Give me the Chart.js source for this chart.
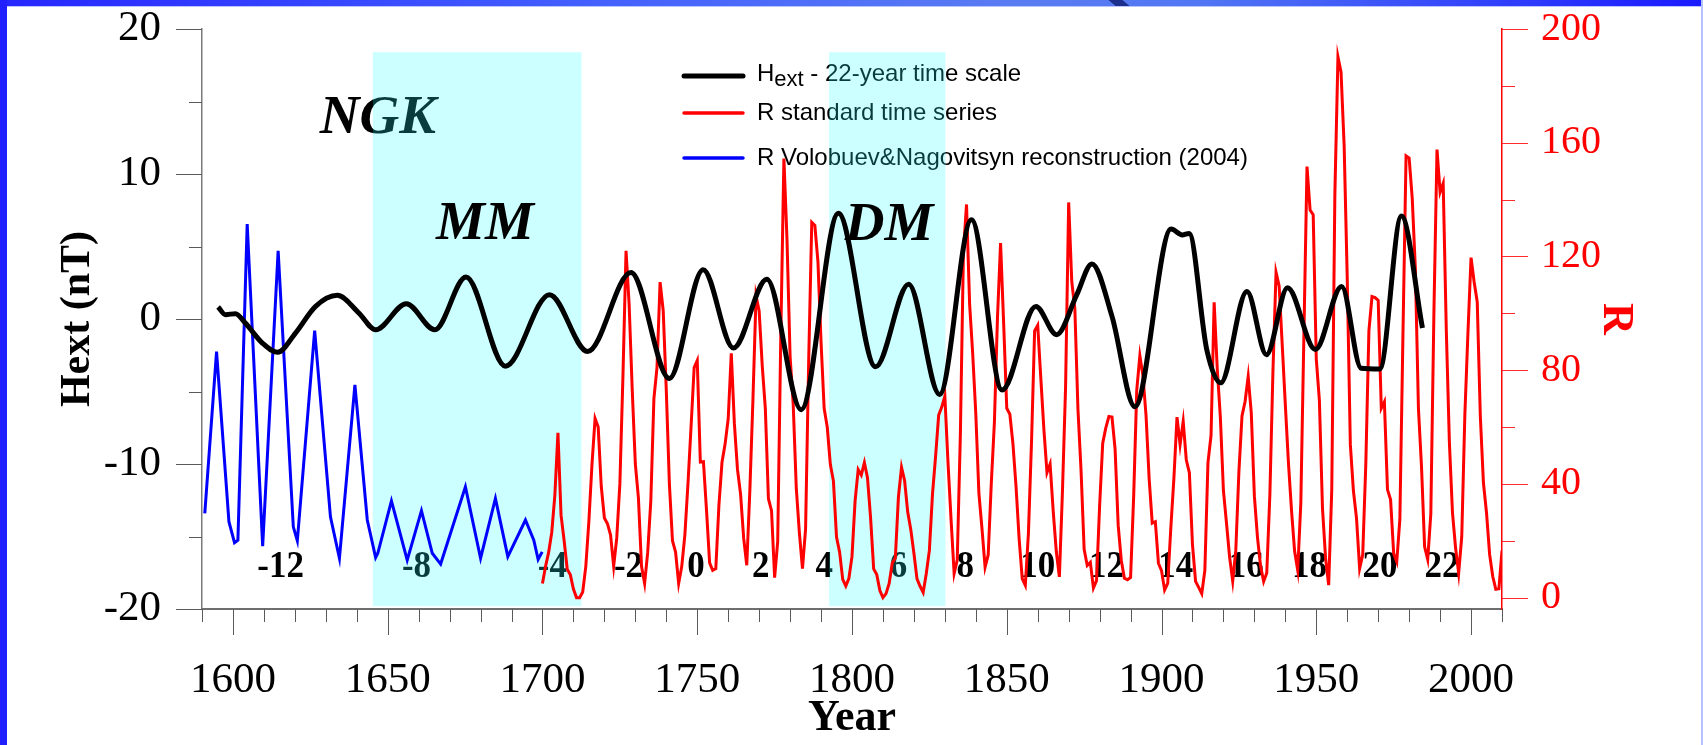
<!DOCTYPE html>
<html>
<head>
<meta charset="utf-8">
<title>Hext 22-year component and sunspot number</title>
<script src="https://cdn.jsdelivr.net/npm/chart.js@4.4.1/dist/chart.umd.min.js"></script>
<style>
  html, body { margin: 0; padding: 0; background: #fff; }
  #frame { position: relative; width: 1703px; height: 745px; overflow: hidden; background: #fff; }
  #frame canvas { position: absolute; left: 0; top: 0; }
  .bar-top { position: absolute; left: 0; top: 0; width: 1703px; height: 6px;
    background: linear-gradient(to right, #2626ff 0%, #4460ff 35%, #5a7cf2 60%, #5277f4 70%, #1a1aff 100%);
    border-bottom: 1px solid #b8c4ff; }
  .notch { position: absolute; top: 0; left: 1112px; width: 14px; height: 6px; background: #1d2f8c; transform: skewX(50deg); }
  .bar-left { position: absolute; left: 0; top: 0; width: 7px; height: 745px; background: #2121ff; }
  .bar-right { position: absolute; right: 0; top: 0; width: 2px; height: 745px; background: #b4c2ff; }
</style>
</head>
<body>
<div id="frame">
  <canvas id="chart" width="1703" height="745"></canvas>
  <div class="bar-top"></div>
  <div class="notch"></div>
  <div class="bar-left"></div>
  <div class="bar-right"></div>
</div>
<script>
// Hext, 22-year time scale (nT): turning points and shoulders of the smoothed curve
const hextYears = [
  1595.2, 1597.6, 1600.8, 1604.0, 1609.5, 1614.4, 1620.2, 1626.7, 1633.7, 1640.7,
  1646.1, 1656.0, 1665.2, 1675.3, 1688.0, 1702.3, 1714.6, 1728.6, 1741.0, 1751.9,
  1761.7, 1772.5, 1783.6, 1795.6, 1807.6, 1818.3, 1828.3, 1838.6, 1848.5, 1859.4,
  1866.1, 1872.6, 1877.5, 1884.0, 1891.4, 1903.1, 1906.7, 1908.9, 1914.6, 1919.1,
  1927.6, 1933.9, 1940.7, 1949.7, 1958.2, 1964.5, 1970.5, 1977.5, 1984.3
];
const hextValues = [
  0.83, 0.30, 0.37, -0.28, -1.66, -2.30, -0.97, 0.87, 1.63, 0.41,
  -0.74, 1.05, -0.74, 2.90, -3.25, 1.68, -2.24, 3.20, -4.10, 3.40,
  -2.00, 2.75, -6.25, 7.30, -3.30, 2.40, -5.20, 6.85, -4.90, 0.87,
  -1.08, 1.67, 3.80, 0.18, -6.05, 6.20, 5.80, 5.90, -2.10, -4.40,
  1.90, -2.46, 2.15, -2.10, 2.25, -3.40, -3.45, 7.10, -0.62
];

// R standard time series, yearly means 1700-2010
const rStartYear = 1700;
const rValues = [
  5, 11, 16, 23, 36, 58, 29, 20, 10, 8,
  3, 0, 0, 2, 11, 27, 47, 63, 60, 39,
  28, 26, 22, 11, 21, 40, 78, 122, 103, 73,
  47, 35, 11, 5, 16, 34, 70, 81, 111, 101,
  73, 40, 20, 16, 5, 11, 22, 40, 60, 80.9,
  83.4, 47.7, 47.8, 30.7, 12.2, 9.6, 10.2, 32.4, 47.6, 54.0,
  62.9, 85.9, 61.2, 45.1, 36.4, 20.9, 11.4, 37.8, 69.8, 106.1,
  100.8, 81.6, 66.5, 34.8, 30.6, 7.0, 19.8, 92.5, 154.4, 125.9,
  84.8, 68.1, 38.5, 22.8, 10.2, 24.1, 82.9, 132.0, 130.9, 118.1,
  89.9, 66.6, 60.0, 46.9, 41.0, 21.3, 16.0, 6.4, 4.1, 6.8,
  14.5, 34.0, 45.0, 43.1, 47.5, 42.2, 28.1, 10.1, 8.1, 2.5,
  0.0, 1.4, 5.0, 12.2, 13.9, 35.4, 45.8, 41.1, 30.1, 23.9,
  15.6, 6.6, 4.0, 1.8, 8.5, 16.6, 36.3, 49.6, 64.2, 67.0,
  70.9, 47.8, 27.5, 8.5, 13.2, 56.9, 121.5, 138.3, 103.2, 85.7,
  64.6, 36.7, 24.2, 10.7, 15.0, 40.1, 61.5, 98.5, 124.7, 96.3,
  66.6, 64.5, 54.1, 39.0, 20.6, 6.7, 4.3, 22.7, 54.8, 93.8,
  95.8, 77.2, 59.1, 44.0, 47.0, 30.5, 16.3, 7.3, 37.6, 74.0,
  139.0, 111.2, 101.6, 66.2, 44.7, 17.0, 11.3, 12.4, 3.4, 6.0,
  32.3, 54.3, 59.7, 63.7, 63.5, 52.2, 25.4, 13.1, 6.8, 6.3,
  7.1, 35.6, 73.0, 85.1, 78.0, 64.0, 41.8, 26.2, 26.7, 12.1,
  9.5, 2.7, 5.0, 24.4, 42.0, 63.5, 53.8, 62.0, 48.5, 43.9,
  18.6, 5.7, 3.6, 1.4, 9.6, 47.4, 57.1, 103.9, 80.6, 63.6,
  37.6, 26.1, 14.2, 5.8, 16.7, 44.3, 63.9, 69.0, 77.8, 64.9,
  35.7, 21.2, 11.1, 5.7, 8.7, 36.1, 79.7, 114.4, 109.6, 88.8,
  67.8, 47.5, 30.6, 16.3, 9.6, 33.2, 92.6, 151.6, 136.3, 134.7,
  83.9, 69.4, 31.5, 13.9, 4.4, 38.0, 141.7, 190.2, 184.8, 159.0,
  112.3, 53.9, 37.5, 27.9, 10.2, 15.1, 47.0, 93.8, 105.9, 105.5,
  104.5, 66.6, 68.9, 38.0, 34.5, 15.5, 12.6, 27.5, 92.5, 155.4,
  154.6, 140.4, 115.9, 66.6, 45.9, 17.9, 13.4, 29.4, 100.2, 157.6,
  142.6, 145.7, 94.3, 54.6, 29.9, 17.5, 8.6, 21.5, 64.3, 93.3,
  119.6, 111.0, 104.0, 63.7, 40.4, 29.8, 15.2, 7.5, 2.9, 3.1,
  16.5
];

// R, Volobuev & Nagovitsyn reconstruction (2004): vertices of the trace
const reconYears = [
  1590.9, 1594.7, 1598.7, 1600.5, 1601.6, 1604.6, 1609.6, 1614.6, 1619.5, 1620.8,
  1626.4, 1631.5, 1634.4, 1639.4, 1643.4, 1646.1, 1646.8, 1651.2, 1656.3, 1660.9,
  1664.4, 1667.1, 1675.1, 1680.0, 1684.8, 1688.8, 1694.5, 1697.2, 1698.6, 1699.9
];
const reconValues = [
  29.6, 86.5, 26.7, 19.3, 20.2, 131.4, 18.1, 122.0, 24.9, 20.0,
  93.9, 28.4, 13.8, 74.8, 27.3, 14.1, 15.6, 34.0, 13.2, 30.6,
  15.6, 11.8, 39.0, 13.8, 34.9, 14.4, 27.3, 20.2, 13.4, 16.1
];

// solar cycle numbers along the bottom
const cycleNumbers = ['-12', '-8', '-4', '-2', '0', '2', '4', '6', '8', '10', '12', '14', '16', '18', '20', '22'];
const cycleYears = [1615.4, 1659.3, 1703.2, 1727.8, 1749.6, 1770.5, 1791.0, 1815.0, 1836.6,
                    1860.0, 1882.2, 1904.6, 1927.4, 1947.8, 1970.6, 1990.6];
const cycleLevel = -17.14;

// grand minima: Maunder and Dalton
const minimaSpans = [[1645.2, 1712.6], [1792.6, 1830.2]];
const minimaTop = 18.4;
const minimaBottom = -19.8;
const minimaNames = ['MM', 'DM'];
const minimaNameAt = [[1681.4, 6.5], [1812.0, 6.45]];
const ngkAt = [1646.8, 13.8];

const SERIF = "'Liberation Serif', 'Times New Roman', Times, serif";
const SANS = "'Liberation Sans', Arial, Helvetica, sans-serif";

const toPoints = (xs, ys) => xs.map((x, i) => ({ x, y: ys[i] }));
const rPoints = rValues.map((v, i) => ({ x: rStartYear + i, y: v }));

function drawLegend(ctx) {
  const x0 = 684, x1 = 743, tx = 757;
  const rows = [
    { y: 76, color: '#000000', width: 5 },
    { y: 113, color: '#ff0000', width: 3.5 },
    { y: 158, color: '#0000ff', width: 3.5 }
  ];
  rows.forEach(r => {
    ctx.beginPath();
    ctx.strokeStyle = r.color;
    ctx.lineWidth = r.width;
    ctx.lineCap = 'round';
    ctx.moveTo(x0, r.y);
    ctx.lineTo(x1, r.y);
    ctx.stroke();
  });
  ctx.fillStyle = '#000';
  ctx.textAlign = 'left';
  ctx.textBaseline = 'middle';
  ctx.font = `24px ${SANS}`;
  let x = tx;
  ctx.fillText('H', x, rows[0].y - 2);
  x += ctx.measureText('H').width;
  ctx.font = `22px ${SANS}`;
  ctx.fillText('ext', x, rows[0].y + 4);
  x += ctx.measureText('ext').width;
  ctx.font = `24px ${SANS}`;
  ctx.fillText(' - 22-year time scale', x, rows[0].y - 2);
  ctx.fillText('R standard time series', tx, rows[1].y);
  ctx.fillText('R Volobuev&Nagovitsyn reconstruction (2004)', tx, rows[2].y);
}

function drawTicks(ctx, scale, from, to, step, majorEvery, side, color) {
  ctx.strokeStyle = color;
  ctx.lineWidth = 1;
  for (let v = from; v <= to + 1e-9; v += step) {
    const len = Math.abs(v % majorEvery) < 1e-9 ? 26 : 13;
    const p = Math.round(scale.getPixelForValue(v)) + 0.5;
    ctx.beginPath();
    if (side === 'bottom') { ctx.moveTo(p, scale.top); ctx.lineTo(p, scale.top + len); }
    if (side === 'left') { ctx.moveTo(scale.right - len, p); ctx.lineTo(scale.right, p); }
    if (side === 'right') { ctx.moveTo(scale.left, p); ctx.lineTo(scale.left + len, p); }
    ctx.stroke();
  }
}

// fixed axis boxes, and no extra label overhang pushed into the layout
const fixBox = size => s => {
  if (s.isHorizontal()) s.height = size; else s.width = size;
  s.paddingTop = 0;
  s.paddingBottom = 0;
  s.paddingLeft = 0;
  s.paddingRight = 0;
};

const annotations = {
  id: 'annotations',
  beforeDatasetsDraw(chart) {
    const { ctx, scales: { x, y } } = chart;
    ctx.save();
    ctx.fillStyle = '#000';
    ctx.textAlign = 'center';
    ctx.textBaseline = 'middle';
    ctx.font = `italic bold 55px ${SERIF}`;
    ctx.fillText('NGK', x.getPixelForValue(ngkAt[0]), y.getPixelForValue(ngkAt[1]));

    ctx.font = `bold 38px ${SERIF}`;
    cycleNumbers.forEach((n, i) => {
      ctx.save();
      ctx.translate(x.getPixelForValue(cycleYears[i]), y.getPixelForValue(cycleLevel));
      ctx.scale(0.92, 1);
      ctx.fillText(n, 0, 0);
      ctx.restore();
    });

    drawLegend(ctx);

    // translucent cyan over the labels, the curves go on top of it
    ctx.fillStyle = 'rgba(38, 255, 255, 0.235)';
    const top = y.getPixelForValue(minimaTop);
    const bottom = y.getPixelForValue(minimaBottom);
    minimaSpans.forEach(([a, b]) => {
      const l = x.getPixelForValue(a);
      ctx.fillRect(l, top, x.getPixelForValue(b) - l, bottom - top);
    });
    ctx.restore();
  },
  afterDatasetsDraw(chart) {
    const { ctx, scales: { x, y } } = chart;
    ctx.save();
    ctx.fillStyle = '#000';
    ctx.textAlign = 'center';
    ctx.textBaseline = 'middle';
    ctx.font = `italic bold 55px ${SERIF}`;
    minimaNames.forEach((name, i) => {
      ctx.fillText(name, x.getPixelForValue(minimaNameAt[i][0]), y.getPixelForValue(minimaNameAt[i][1]));
    });
    ctx.restore();
  },
  afterDraw(chart) {
    const { ctx, scales: { x, y, y2 } } = chart;
    ctx.save();
    drawTicks(ctx, x, 1590, 2010, 10, 50, 'bottom', '#5a5a5a');
    drawTicks(ctx, y, -20, 20, 5, 10, 'left', '#5a5a5a');
    drawTicks(ctx, y2, 0, 200, 20, 40, 'right', '#ff2a2a');
    ctx.restore();
  }
};

new Chart(document.getElementById('chart'), {
  type: 'line',
  data: {
    datasets: [
      {
        label: 'Hext - 22-year time scale',
        data: toPoints(hextYears, hextValues),
        yAxisID: 'y',
        borderColor: '#000000',
        borderWidth: 5,
        cubicInterpolationMode: 'monotone',
        pointRadius: 0,
        order: 0
      },
      {
        label: 'R standard time series',
        data: rPoints,
        yAxisID: 'y2',
        borderColor: '#ff0000',
        borderWidth: 3,
        pointRadius: 0,
        tension: 0,
        order: 1
      },
      {
        label: 'R Volobuev&Nagovitsyn reconstruction (2004)',
        data: toPoints(reconYears, reconValues),
        yAxisID: 'y2',
        borderColor: '#0000ff',
        borderWidth: 3,
        pointRadius: 0,
        tension: 0,
        order: 2
      }
    ]
  },
  options: {
    responsive: false,
    animation: false,
    devicePixelRatio: 1,
    layout: { padding: { top: 29, right: 0, bottom: 0, left: 0 } },
    plugins: { legend: { display: false }, tooltip: { enabled: false } },
    scales: {
      x: {
        type: 'linear',
        position: 'bottom',
        min: 1590,
        max: 2010,
        grid: { drawOnChartArea: false, drawTicks: false },
        border: { color: '#6e6e6e', width: 2 },
        ticks: {
          stepSize: 50, includeBounds: false, autoSkip: false, maxRotation: 0,
          padding: 46, color: '#000',
          font: { family: SERIF, size: 43 },
          callback: v => String(v)
        },
        title: {
          display: true, text: 'Year', color: '#000',
          font: { family: SERIF, size: 44, weight: 'bold' },
          padding: { top: 0, bottom: 0 }
        },
        afterFit: fixBox(136)
      },
      y: {
        type: 'linear',
        position: 'left',
        min: -20,
        max: 20,
        grid: { drawOnChartArea: false, drawTicks: false },
        border: { color: '#7a7a7a', width: 1.5 },
        ticks: {
          stepSize: 10, padding: 41, color: '#000',
          font: { family: SERIF, size: 43 },
          callback: v => String(v)
        },
        title: {
          display: true, text: 'Hext (nT)', color: '#000',
          font: { family: SERIF, size: 42, weight: 'bold' },
          padding: { top: 53, bottom: 0 }
        },
        afterFit: fixBox(202)
      },
      y2: {
        type: 'linear',
        position: 'right',
        min: -4,
        max: 200,
        grid: { drawOnChartArea: false, drawTicks: false },
        border: { color: '#ff0000', width: 1.5 },
        ticks: {
          stepSize: 40, includeBounds: false, padding: 39, color: '#ff0000',
          font: { family: SERIF, size: 40 },
          callback: v => String(v)
        },
        title: {
          display: true, text: 'R', color: '#ff0000',
          font: { family: SERIF, size: 44, weight: 'bold' },
          padding: { top: 61, bottom: 0 }
        },
        afterFit: fixBox(201)
      }
    }
  },
  plugins: [annotations]
});
</script>
</body>
</html>
